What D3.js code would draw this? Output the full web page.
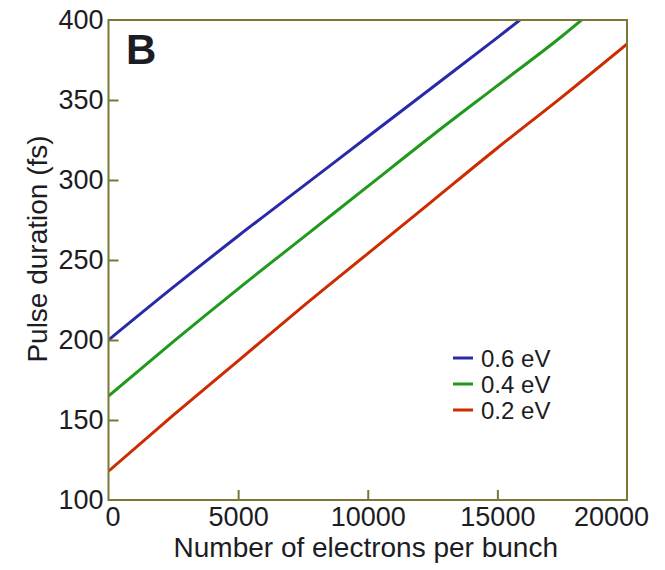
<!DOCTYPE html>
<html>
<head>
<meta charset="utf-8">
<script src="https://cdn.jsdelivr.net/npm/d3@7"></script>
<style>
  html, body { margin: 0; padding: 0; background: #fff; }
  svg { display: block; }
  text { font-family: "Liberation Sans", Arial, Helvetica, sans-serif; fill: #1c1c24; }
</style>
</head>
<body>
<svg id="chart" width="665" height="570"></svg>
<script>
// ---- data ----
const electrons = [0, 2500, 5000, 7500, 10000, 12500, 15000, 17500, 20000];
const seriesNames = ["0.6 eV", "0.4 eV", "0.2 eV"];
const blueX  = [0, 2500, 5000, 7500, 10000, 12500, 15000, 15870];
const blueY  = [200, 233, 265, 296, 327, 358, 389, 400];
const greenX = [0, 2500, 5000, 7500, 10000, 12500, 15000, 17500, 18250];
const greenY = [165, 199, 232, 264, 296, 328, 359, 390, 400];
const redX   = electrons;
const redY   = [118, 153, 187, 221, 254, 287, 320, 352, 385];
const xTicks = [0, 5000, 10000, 15000, 20000];
const yTicks = [100, 150, 200, 250, 300, 350, 400];
const seriesColors = ["#2a2aa8", "#1f9a1c", "#cc2c00"];
const panelLabel = "B";
const xTitle = "Number of electrons per bunch";
const yTitle = "Pulse duration (fs)";

// ---- layout ----
const svg = d3.select("#chart");
const m = { left: 108.5, right: 627, top: 20, bottom: 500 };
const x = d3.scaleLinear().domain([0, 20000]).range([m.left, m.right]);
const y = d3.scaleLinear().domain([100, 400]).range([m.bottom, m.top]);
const axisColor = "#7a7834";

const series = [
  { name: seriesNames[0], xs: blueX, ys: blueY, color: seriesColors[0] },
  { name: seriesNames[1], xs: greenX, ys: greenY, color: seriesColors[1] },
  { name: seriesNames[2], xs: redX, ys: redY, color: seriesColors[2] }
];

const line = d3.line().curve(d3.curveMonotoneX).x(d => x(d[0])).y(d => y(d[1]));
svg.append("defs").append("clipPath").attr("id", "clip")
  .append("rect").attr("x", m.left).attr("y", m.top)
  .attr("width", m.right - m.left).attr("height", m.bottom - m.top);

svg.append("g").attr("clip-path", "url(#clip)")
  .selectAll("path").data(series).enter().append("path")
  .attr("d", s => line(s.xs.map((v, i) => [v, s.ys[i]])))
  .attr("fill", "none").attr("stroke", s => s.color).attr("stroke-width", 3);

// frame
svg.append("rect").attr("x", m.left).attr("y", m.top)
  .attr("width", m.right - m.left).attr("height", m.bottom - m.top)
  .attr("fill", "none").attr("stroke", axisColor).attr("stroke-width", 2);

// axes
const xAxis = svg.append("g").attr("transform", `translate(0,${m.bottom})`)
  .call(d3.axisBottom(x).tickValues(xTicks).tickSizeInner(-10).tickSizeOuter(0).tickPadding(18).tickFormat(d3.format("d")));
const yAxis = svg.append("g").attr("transform", `translate(${m.left},0)`)
  .call(d3.axisLeft(y).tickValues(yTicks).tickSizeInner(-10).tickSizeOuter(0).tickPadding(6).tickFormat(d3.format("d")));
[xAxis, yAxis].forEach(g => {
  g.select(".domain").remove();
  g.selectAll(".tick line").attr("stroke", axisColor).attr("stroke-width", 2);
  g.selectAll(".tick text").style("font-size", "27px").attr("fill", "#1c1c24")
    .style("font-family", "'Liberation Sans', Arial, sans-serif");
});
xAxis.selectAll(".tick text").attr("dy", "0.71em").attr("y", 7);
xAxis.selectAll(".tick text").filter(d => d === 0).attr("dx", 4);
xAxis.selectAll(".tick text").filter(d => d === 20000).attr("dx", -16);
yAxis.selectAll(".tick text").attr("x", -5);
xAxis.selectAll(".tick line").filter(d => d === 0 || d === 20000).remove();
yAxis.selectAll(".tick line").filter(d => d === 100 || d === 400).remove();

// panel label
svg.append("text").attr("x", 126).attr("y", 64).text(panelLabel)
  .style("font-size", "42px").style("font-weight", "bold").attr("fill", "#000");

// titles
svg.append("text").attr("x", (m.left + m.right) / 2 - 2).attr("y", 557)
  .attr("text-anchor", "middle").style("font-size", "28px").text(xTitle);
svg.append("text").attr("transform", "translate(47,249) rotate(-90)")
  .attr("text-anchor", "middle").style("font-size", "28px").text(yTitle);

// legend
const lg = svg.append("g");
series.forEach((s, i) => {
  const ly = 358 + i * 26;
  lg.append("line").attr("x1", 453).attr("x2", 473).attr("y1", ly).attr("y2", ly)
    .attr("stroke", s.color).attr("stroke-width", 3);
  lg.append("text").attr("x", 481).attr("y", ly).attr("dy", "0.36em")
    .style("font-size", "24px").text(s.name);
});
</script>
</body>
</html>
